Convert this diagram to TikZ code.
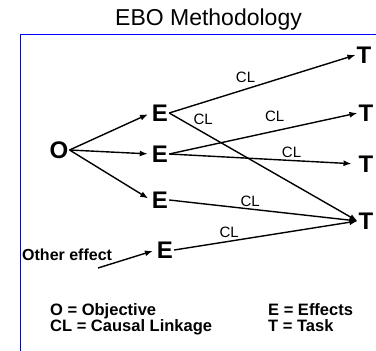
\documentclass[tikz,border=0pt]{standalone}
\usepackage{fontspec}
\setmainfont{Liberation Sans}
\usetikzlibrary{arrows.meta}

\begin{document}
\begin{tikzpicture}[x=1pt,y=-1pt,
  big/.style={font=\fontsize{24}{24}\selectfont\bfseries,inner sep=1pt},
  cl/.style={font=\fontsize{15}{15}\selectfont,inner sep=1pt},
  key/.style={font=\fontsize{16.5}{16.5}\selectfont\bfseries,anchor=base west,inner sep=0pt},
  link/.style={line width=1.4pt,-{Latex[length=8pt,width=6pt]}}]
  \useasboundingbox (0,0) rectangle (376,351);
  \draw[blue,line width=1.5pt] (376,34.5) -- (20.5,34.5) -- (20.5,351);
  \node[font=\fontsize{23}{23}\selectfont,anchor=base] (title) at (208.5,25) {EBO Methodology};
  \node[big] (o) at (59,150) {O};
  \node[big] (e1) at (160,113) {E};
  \node[big] (e2) at (160,154) {E};
  \node[big] (e3) at (160,200) {E};
  \node[big] (e4) at (165,250) {E};
  \node[big] (t1) at (364,55) {T};
  \node[big] (t2) at (366,113) {T};
  \node[big] (t3) at (366,164) {T};
  \node[big] (t4) at (366,221) {T};
  \node[key,font=\fontsize{16}{16}\selectfont\bfseries] (other) at (22,260) {Other effect};
  \coordinate (src) at (98,268);
  \draw[link,shorten >=3pt] (o.east) -- (e1.west);
  \draw[link,shorten >=3pt] (o.east) -- (e2.west);
  \draw[link,shorten >=3pt] (o.east) -- (e3.west);
  \draw[link,shorten >=3pt] (src) -- (e4.west);
  \draw[link] (e1.east) -- (t1.west) node[cl,pos=.41,above=5pt] {CL};
  \draw[link] (e1.east) -- (t4.west) node[cl,pos=.18,above=6pt] {CL};
  \draw[link] (e2.east) -- (t2.west) node[cl,pos=.56,above=8pt] {CL};
  \draw[link,shorten >=6pt] (e2.east) -- (t3.west) node[cl,pos=.65,above=1.5pt] {CL};
  \draw[link] (e3.east) -- (t4.west) node[cl,pos=.43,above=1pt] {CL};
  \draw[link] (e4.east) -- (t4.west) node[cl,pos=.30,above=1.5pt] {CL};
  \node[key] (ko) at (50,315) {O = Objective};
  \node[key] (kcl) at (50,331.5) {CL = Causal Linkage};
  \node[key] (ke) at (268,315) {E = Effects};
  \node[key] (kt) at (268,331.5) {T = Task};
\end{tikzpicture}
\end{document}
